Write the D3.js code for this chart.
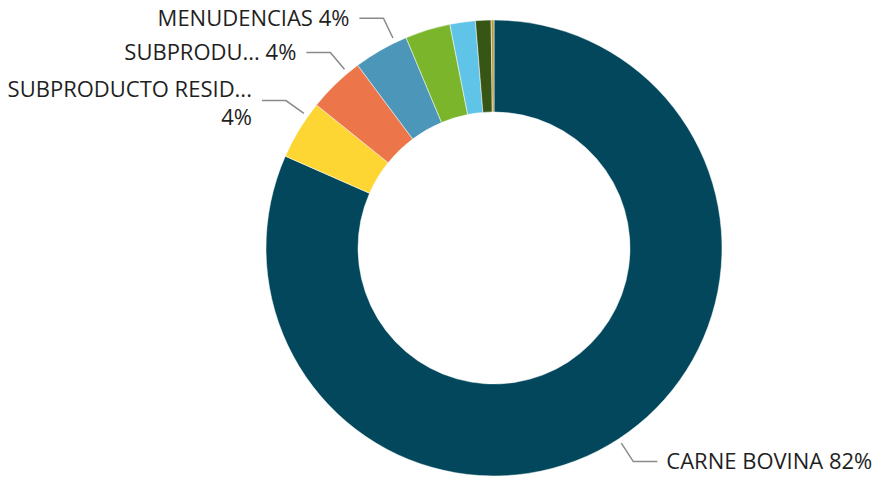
<!DOCTYPE html>
<html>
<head>
<meta charset="utf-8">
<script src="https://cdn.jsdelivr.net/npm/d3@7"></script>
<style>
  html, body { margin: 0; padding: 0; background: #ffffff; }
  svg { display: block; }
</style>
</head>
<body>
<svg id="chart" width="876" height="480"></svg>
<script>
// ---- data ----
const categories = [
  "CARNE BOVINA",
  "SUBPRODUCTO RESID...",
  "SUBPRODU...",
  "MENUDENCIAS",
  "OTROS A",
  "OTROS B",
  "OTROS C",
  "OTROS D"
];
const values = [81.6, 4.2, 4.0, 3.9, 3.2, 1.8, 1.1, 0.2];
const colors = ["#02475B", "#FDD634", "#EC754A", "#4B96B9", "#7AB52B", "#5FC4E7", "#375615", "#B89B3A"];
const labelText = ["CARNE BOVINA 82%", "SUBPRODUCTO RESID...|4%", "SUBPRODU... 4%", "MENUDENCIAS 4%", null, null, null, null];

// ---- layout ----
const W = 876, H = 480;
const cx = 494, cy = 248;
const outerR = 228, innerR = 136;

const svg = d3.select("#chart");
const g = svg.append("g").attr("transform", `translate(${cx},${cy})`);

const data = categories.map((c, i) => ({ name: c, value: values[i], color: colors[i], label: labelText[i] }));

const pie = d3.pie().value(d => d.value).sort(null).startAngle(0).endAngle(2 * Math.PI);
const arc = d3.arc().innerRadius(innerR).outerRadius(outerR);
const arcs = pie(data);

g.selectAll("path.slice")
  .data(arcs)
  .join("path")
  .attr("class", "slice")
  .attr("d", arc)
  .attr("fill", d => d.data.color)
  .attr("stroke", "#ffffff")
  .attr("stroke-width", 0.5);

// ---- labels with leader lines ----
const polar = (r, a) => [r * Math.sin(a), -r * Math.cos(a)];
const nudge = 4 * Math.PI / 180; // spread small left-side labels slightly

arcs.filter(d => d.data.label).forEach(d => {
  const mid = (d.startAngle + d.endAngle) / 2;
  const left = mid > Math.PI;
  const a = left ? mid + nudge : mid;
  const p0 = polar(outerR + 5, a);
  const p1 = polar(outerR + 27, a);
  const p2 = [p1[0] + (left ? -24 : 24), p1[1]];

  g.append("polyline")
    .attr("points", [p0, p1, p2].map(p => p.join(",")).join(" "))
    .attr("fill", "none")
    .attr("stroke", "#8a8a8a")
    .attr("stroke-width", 1.5);

  const lines = d.data.label.split("|");
  const tx = p2[0] + (left ? -10 : 9);
  const t = g.append("text")
    .attr("x", tx)
    .attr("y", p2[1])
    .attr("text-anchor", left ? "end" : "start")
    .attr("font-family", "'Open Sans', 'Segoe UI', sans-serif")
    .attr("font-size", 22)
    .attr("fill", "#1f1f1f");
  if (lines.length === 1) {
    t.append("tspan").attr("x", tx).attr("dy", "0.34em").text(lines[0]);
  } else {
    t.append("tspan").attr("x", tx).attr("dy", "-0.18em").text(lines[0]);
    t.append("tspan").attr("x", tx).attr("dy", "1.3em").text(lines[1]);
  }
});
</script>
</body>
</html>
